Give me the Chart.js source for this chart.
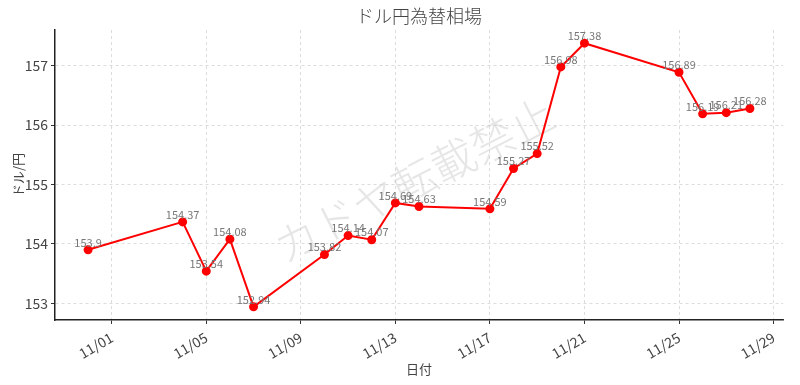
<!DOCTYPE html>
<html>
<head>
<meta charset="utf-8">
<script src="https://cdn.jsdelivr.net/npm/chart.js@4.4.1/dist/chart.umd.min.js"></script>
<style>
  html, body { margin: 0; padding: 0; background: #fff; }
  #wrap { width: 800px; height: 385px; }
</style>
</head>
<body>
<div id="wrap"><canvas id="fxChart"></canvas></div>
<script>
const dates = ['10/31', '11/04', '11/05', '11/06', '11/07', '11/10', '11/11', '11/12', '11/13', '11/14',
  '11/17', '11/18', '11/19', '11/20', '11/21', '11/25', '11/26', '11/27', '11/28'];
const rates = [153.9, 154.37, 153.54, 154.08, 152.94, 153.82, 154.14, 154.07, 154.69, 154.63,
  154.59, 155.27, 155.52, 156.98, 157.38, 156.89, 156.19, 156.21, 156.28];
const xTickDays = [1, 5, 9, 13, 17, 21, 25, 29];
const yTicks = [153, 154, 155, 156, 157];

const FONT = '"Noto Sans CJK JP", "Noto Sans", sans-serif';

// day number relative to Nov (10/31 -> 0)
function dayNum(s) {
  const [m, d] = s.split('/').map(Number);
  return m === 10 ? d - 31 : d;
}
function dayLabel(v) {
  if (v <= 0) return '10/' + String(31 + v).padStart(2, '0');
  return '11/' + String(v).padStart(2, '0');
}

const points = dates.map((d, i) => ({ x: dayNum(d), y: rates[i] }));
const xSpan = dayNum(dates[dates.length - 1]) - dayNum(dates[0]);
const ySpan = Math.max(...rates) - Math.min(...rates);

const extras = {
  id: 'extras',
  beforeDatasetsDraw(chart) {
    const { ctx, chartArea } = chart;
    ctx.save();
    ctx.translate((chartArea.left + chartArea.right) / 2 - 5, (chartArea.top + chartArea.bottom) / 2 + 5);
    ctx.rotate(-27 * Math.PI / 180);
    ctx.font = '300 44px ' + FONT;
    ctx.fillStyle = 'rgba(200,200,200,0.45)';
    ctx.textAlign = 'center';
    ctx.textBaseline = 'middle';
    ctx.fillText('カドヤ転載禁止', 0, 0);
    ctx.restore();
  },
  afterDatasetsDraw(chart) {
    const { ctx, chartArea } = chart;
    const meta = chart.getDatasetMeta(0);
    ctx.save();
    ctx.font = '11px ' + FONT;
    ctx.fillStyle = '#777';
    ctx.textAlign = 'center';
    ctx.textBaseline = 'bottom';
    meta.data.forEach((pt, i) => {
      ctx.fillText(String(rates[i]), pt.x, pt.y - 2);
    });
    ctx.font = '300 18px ' + FONT;
    ctx.fillStyle = '#444';
    ctx.textBaseline = 'middle';
    ctx.fillText('ドル円為替相場', (chartArea.left + chartArea.right) / 2, 16);
    ctx.restore();
  }
};

new Chart(document.getElementById('fxChart'), {
  type: 'line',
  data: {
    datasets: [{
      data: points,
      borderColor: '#ff0000',
      backgroundColor: '#ff0000',
      borderWidth: 2,
      pointRadius: 3.5,
      pointHoverRadius: 3.5,
      tension: 0,
    }],
  },
  options: {
    responsive: true,
    maintainAspectRatio: false,
    animation: false,
    layout: { padding: { top: 30, right: 17, left: 0, bottom: 0 } },
    plugins: {
      legend: { display: false },
      title: { display: false },
      tooltip: { enabled: false },
    },
    scales: {
      x: {
        type: 'linear',
        min: dayNum(dates[0]) - xSpan * 0.05,
        max: dayNum(dates[dates.length - 1]) + xSpan * 0.05,
        afterBuildTicks(scale) { scale.ticks = xTickDays.map(v => ({ value: v })); },
        afterFit(scale) { scale.height = 65; },
        ticks: {
          minRotation: 30, maxRotation: 30, autoSkip: false,
          color: '#444', font: { family: FONT, size: 14 }, padding: 5,
          callback: v => dayLabel(v),
        },
        grid: { color: '#d4d4d4', lineWidth: 0.8, tickColor: '#333', tickLength: 4, tickWidth: 1 },
        border: { display: true, color: '#222', width: 1.5, dash: [3, 3] },
        title: { display: true, text: '日付', color: '#444', font: { family: FONT, size: 13 }, padding: { top: 0, bottom: 8 } },
      },
      y: {
        min: Math.min(...rates) - ySpan * 0.05,
        max: Math.max(...rates) + ySpan * 0.05,
        afterBuildTicks(scale) { scale.ticks = yTicks.map(v => ({ value: v })); },
        afterFit(scale) { scale.width = 55; },
        ticks: { color: '#444', font: { family: FONT, size: 14 }, padding: 3 },
        grid: { color: '#d4d4d4', lineWidth: 0.8, tickColor: '#333', tickLength: 4, tickWidth: 1 },
        border: { display: true, color: '#222', width: 1.5, dash: [3, 3] },
        title: { display: true, text: 'ドル/円', color: '#444', font: { family: FONT, size: 13 }, padding: { top: 10, bottom: 0 } },
      },
    },
  },
  plugins: [extras],
});
</script>
</body>
</html>
